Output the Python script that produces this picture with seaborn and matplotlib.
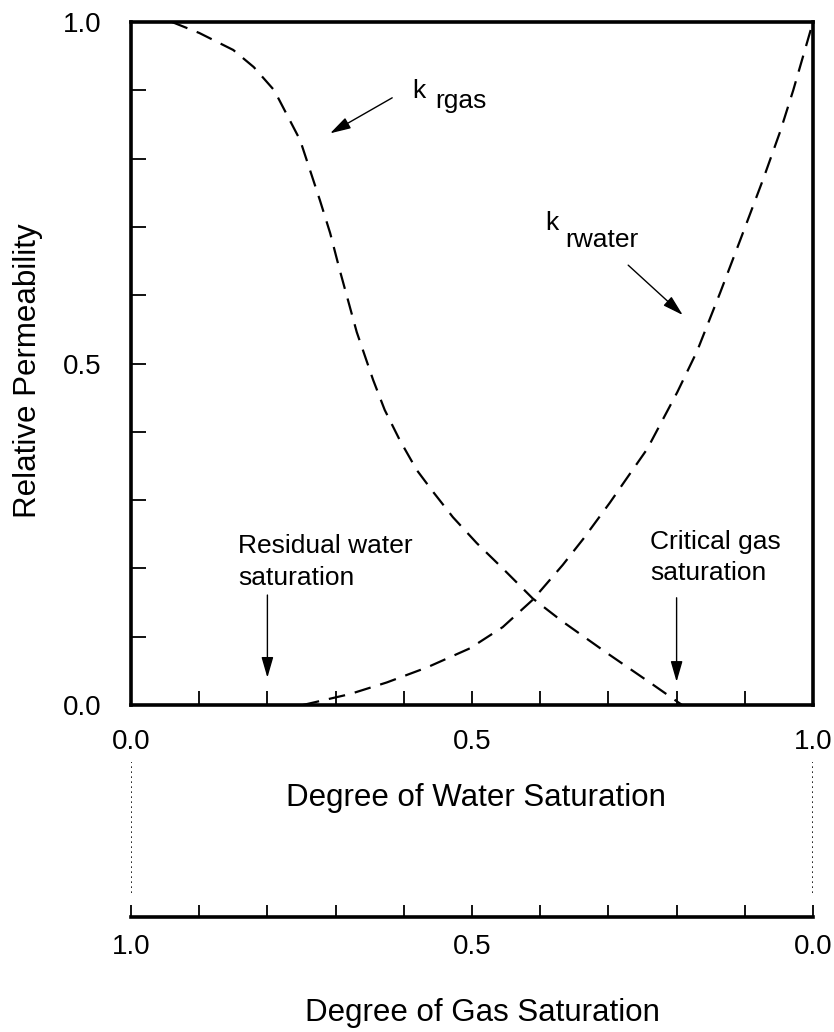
"""
plot.py - relative permeability curves vs. water / gas saturation
"""
import numpy as np
import pandas as pd
import matplotlib.pyplot as plt
import seaborn as sns
from matplotlib.ticker import MultipleLocator

# curves (x = degree of water saturation)
sw_gas = [0.06, 0.10, 0.15, 0.18, 0.21, 0.248, 0.277, 0.292, 0.306, 0.331, 0.355,
          0.372, 0.394, 0.419, 0.443, 0.472, 0.507, 0.545, 0.589, 0.633, 0.698,
          0.765, 0.808]
kr_gas = [1.0, 0.984, 0.959, 0.934, 0.900, 0.827, 0.739, 0.691, 0.637, 0.546, 0.476,
          0.432, 0.388, 0.344, 0.312, 0.275, 0.237, 0.200, 0.156, 0.122, 0.076,
          0.030, 0.0]

sw_water = [0.252, 0.321, 0.375, 0.434, 0.497, 0.545, 0.589, 0.633, 0.663, 0.702,
            0.727, 0.757, 0.801, 0.830, 0.864, 0.893, 0.927, 0.952, 0.971, 1.0]
kr_water = [0.0, 0.016, 0.033, 0.055, 0.083, 0.114, 0.154, 0.205, 0.243, 0.296,
            0.332, 0.375, 0.458, 0.518, 0.604, 0.680, 0.770, 0.840, 0.900, 1.0]

tick_vals = [0.0, 0.5, 1.0]
tick_labels = ["0.0", "0.5", "1.0"]
residual_sw = 0.2
critical_sw = 0.8

sns.set_theme(style="ticks")
plt.rcParams["font.family"] = ["Liberation Sans", "DejaVu Sans"]
plt.rcParams["axes.edgecolor"] = "black"
plt.rcParams["xtick.color"] = "black"
plt.rcParams["ytick.color"] = "black"
plt.rcParams["text.color"] = "black"
plt.rcParams["axes.labelcolor"] = "black"

W, H = 834, 1032
fig = plt.figure(figsize=(W / 100, H / 100), dpi=100)
ax = fig.add_axes([131 / W, 1 - 705 / H, 682 / W, 683 / H])

dash = (0, (7.5, 4.5))
df_gas = pd.DataFrame({"sw": sw_gas, "kr": kr_gas})
df_water = pd.DataFrame({"sw": sw_water, "kr": kr_water})
sns.lineplot(data=df_gas, x="sw", y="kr", ax=ax, color="black", lw=1.6,
             linestyle=dash, estimator=None, sort=False)
sns.lineplot(data=df_water, x="sw", y="kr", ax=ax, color="black", lw=1.6,
             linestyle=dash, estimator=None, sort=False)

ax.set_xlim(0, 1)
ax.set_ylim(0, 1)
for s in ax.spines.values():
    s.set_linewidth(2.6)
ax.set_xticks(tick_vals)
ax.set_xticklabels(tick_labels)
ax.set_yticks(tick_vals)
ax.set_yticklabels(tick_labels)
ax.xaxis.set_minor_locator(MultipleLocator(0.1))
ax.yaxis.set_minor_locator(MultipleLocator(0.1))
ax.tick_params(axis="both", which="both", direction="in", width=1.3,
               labelsize=20, top=False, right=False)
ax.tick_params(axis="x", which="both", length=10, pad=17)
ax.tick_params(axis="y", which="both", length=11, pad=21)

ax.set_xlabel("Degree of Water Saturation", fontsize=22.5)
ax.xaxis.label.set_va("center")
ax.xaxis.set_label_coords(0.506, -0.136)
ax.set_ylabel("Relative Permeability", fontsize=22.5)
ax.yaxis.label.set_va("center")
ax.yaxis.set_label_coords(-0.151, 0.49)

arrow = dict(arrowstyle="-|>,head_length=0.45,head_width=0.13", color="black",
             lw=1.0, shrinkA=0, shrinkB=0, mutation_scale=28)
fs = 19

# k_rgas label
ax.text(0.412, 0.889, "k", fontsize=fs, va="baseline", ha="left")
ax.text(0.446, 0.874, "rgas", fontsize=fs, va="baseline", ha="left")
ax.annotate("", xy=(0.292, 0.837), xytext=(0.383, 0.889), arrowprops=arrow)

# k_rwater label
ax.text(0.607, 0.695, "k", fontsize=fs, va="baseline", ha="left")
ax.text(0.636, 0.671, "rwater", fontsize=fs, va="baseline", ha="left")
ax.annotate("", xy=(0.809, 0.571), xytext=(0.729, 0.644), arrowprops=arrow)

# saturation markers
ax.text(0.157, 0.2225, "Residual water", fontsize=fs, va="baseline", ha="left")
ax.text(0.157, 0.176, "saturation", fontsize=fs, va="baseline", ha="left")
ax.annotate("", xy=(residual_sw, 0.040), xytext=(residual_sw, 0.161), arrowprops=arrow)

ax.text(0.761, 0.229, "Critical gas", fontsize=fs, va="baseline", ha="left")
ax.text(0.761, 0.183, "saturation", fontsize=fs, va="baseline", ha="left")
ax.annotate("", xy=(critical_sw, 0.034), xytext=(critical_sw, 0.157), arrowprops=arrow)

# second scale: degree of gas saturation
ax2 = fig.add_axes([131 / W, 1 - 917 / H, 682 / W, 155 / H])
ax2.set_facecolor("none")
for side in ["top", "left", "right"]:
    ax2.spines[side].set_visible(False)
ax2.spines["bottom"].set_linewidth(2.6)
ax2.set_xlim(1, 0)
ax2.set_ylim(0, 1)
ax2.set_yticks([])
ax2.set_xticks(tick_vals)
ax2.set_xticklabels(tick_labels)
ax2.xaxis.set_minor_locator(MultipleLocator(0.1))
ax2.tick_params(axis="x", which="both", direction="in", length=9, width=1.3,
                labelsize=20, pad=12)
ax2.axvline(1.0, ymin=0.155, ymax=1.0, color="black", lw=1.2, ls=(0, (1, 2)))
ax2.axvline(0.0, ymin=0.155, ymax=1.0, color="black", lw=1.2, ls=(0, (1, 2)))
ax2.set_xlabel("Degree of Gas Saturation", fontsize=22.5)
ax2.xaxis.label.set_va("center")
ax2.xaxis.set_label_coords(0.516, -0.619)

fig.savefig("out.png", dpi=100)
